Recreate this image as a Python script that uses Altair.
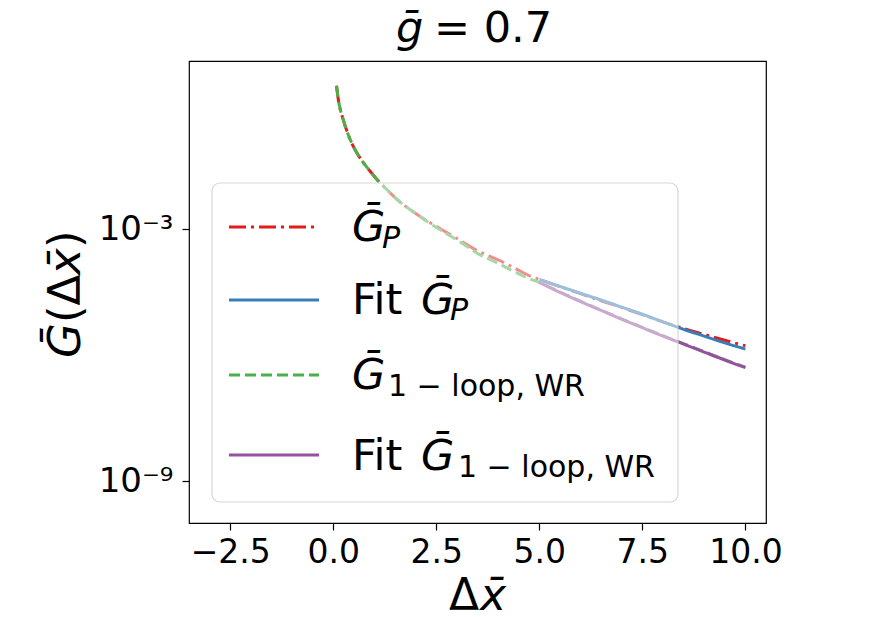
import altair as alt
import pandas as pd

FONT = "DejaVu Sans"

# ---- data (log10 of G) ----
x_gp = [0.08, 0.12, 0.16, 0.24, 0.35, 0.48, 0.6, 0.73, 0.9, 1.05, 1.3, 1.54, 2.0, 2.35,
        2.75, 3.16, 3.5, 3.97, 4.4, 4.78, 5.0, 5.5, 6.0, 6.5, 7.0, 7.5, 8.0, 8.5, 9.0, 9.5, 10.0]
log_gp = [0.41, 0.10, -0.11, -0.39, -0.72, -1.02, -1.23, -1.42, -1.63, -1.81, -2.06, -2.29, -2.63, -2.85,
          -3.08, -3.32, -3.52, -3.72, -3.93, -4.12, -4.20, -4.37, -4.54, -4.71, -4.87, -5.04, -5.21, -5.37, -5.51, -5.65, -5.78]

x_1l = [0.08, 0.12, 0.16, 0.24, 0.35, 0.48, 0.6, 0.73, 0.9, 1.05, 1.3, 1.54, 2.0, 2.35,
        2.75, 3.16, 3.5, 3.97, 4.4, 4.78, 5.0, 5.5, 6.0, 6.5, 7.0, 7.5, 8.0, 8.5, 9.0, 9.5, 10.0]
log_1l = [0.41, 0.10, -0.11, -0.39, -0.72, -1.02, -1.23, -1.42, -1.63, -1.81, -2.06, -2.29, -2.63, -2.87,
          -3.11, -3.36, -3.58, -3.80, -4.02, -4.19, -4.27, -4.50, -4.72, -4.93, -5.14, -5.34, -5.54, -5.73, -5.92, -6.11, -6.29]

x_fit = [5.0, 5.5, 6.0, 6.5, 7.0, 7.5, 8.0, 8.5, 9.0, 9.5, 10.0]
log_fit_gp = [-4.20, -4.37, -4.53, -4.69, -4.86, -5.03, -5.21, -5.39, -5.55, -5.71, -5.86]
log_fit_1l = [-4.27, -4.51, -4.73, -4.94, -5.15, -5.35, -5.55, -5.74, -5.93, -6.12, -6.30]

x_ticks = [-2.5, 0.0, 2.5, 5.0, 7.5, 10.0]
y_ticks = [1e-9, 1e-3]

RED, BLUE, GREEN, PURPLE = "#e41a1c", "#377eb8", "#4daf4a", "#984ea3"

xscale = alt.Scale(domain=[-3.5, 10.5], nice=False, zero=False)
yscale = alt.Scale(type="log", domain=[1e-10, 10], nice=False)
xaxis = alt.Axis(values=x_ticks, format=".1f", title=None, grid=False, domain=False,
                 tickColor="black", tickWidth=1.2, tickSize=7, labelPadding=6,
                 labelFont=FONT, labelFontSize=33, labelColor="black")
yaxis = alt.Axis(values=y_ticks, labelExpr="datum.value < 1e-6 ? '10⁻⁹' : '10⁻³'",
                 title=None, grid=False, domain=False,
                 tickColor="black", tickWidth=1.2, tickSize=7, labelPadding=9,
                 labelFont=FONT, labelFontSize=34, labelColor="black")


def line(xs, logs, color, dash=None):
    df = pd.DataFrame({"x": xs, "G": [10 ** v for v in logs]})
    kw = dict(color=color, strokeWidth=3, interpolate="monotone")
    if dash:
        kw["strokeDash"] = dash
    return alt.Chart(df).mark_line(**kw).encode(
        x=alt.X("x:Q", scale=xscale, axis=xaxis),
        y=alt.Y("G:Q", scale=yscale, axis=yaxis),
    )


one = pd.DataFrame({"a": [0]})


def txt(s, x, y, size, italic=False, angle=0):
    return alt.Chart(one).mark_text(
        text=s, font=FONT, fontSize=size, fontStyle="italic" if italic else "normal",
        align="left", baseline="alphabetic", angle=angle, color="black"
    ).encode(x=alt.value(x), y=alt.value(y))


def rule(y, color, dash=None):
    kw = dict(color=color, strokeWidth=3)
    if dash:
        kw["strokeDash"] = dash
    return alt.Chart(one).mark_rule(**kw).encode(
        x=alt.value(40), x2=alt.value(130), y=alt.value(y))


DASHDOT = [17, 5, 3, 5]
DASH = [11, 5]

layers = [
    line(x_gp, log_gp, RED, DASHDOT),
    line(x_fit, log_fit_gp, BLUE),
    line(x_1l, log_1l, GREEN, DASH),
    line(x_fit, log_fit_1l, PURPLE),
]

legend_box = alt.Chart(one).mark_rect(
    fill="white", fillOpacity=0.5, stroke="#cccccc", strokeOpacity=0.8, strokeWidth=1.2,
    cornerRadius=8
).encode(x=alt.value(23), x2=alt.value(489), y=alt.value(122), y2=alt.value(441))

MAIN, SUB = 43, 30
legend = [
    legend_box,
    rule(166, RED, DASHDOT),
    rule(239, BLUE),
    rule(314, GREEN, DASH),
    rule(394, PURPLE),
    # item 1
    txt("Ḡ", 163, 180, MAIN, True),
    txt("P", 193, 187, SUB, True),
    # item 2
    txt("Fit", 163, 253, MAIN),
    txt("Ḡ", 232, 253, MAIN, True),
    txt("P", 261, 259, SUB, True),
    # item 3
    txt("Ḡ", 163, 328, MAIN, True),
    txt("1 − loop, WR", 199, 335, SUB),
    # item 4
    txt("Fit", 163, 409, MAIN),
    txt("Ḡ", 232, 409, MAIN, True),
    txt("1 − loop, WR", 269, 416, SUB),
]

titles = [
    txt("ḡ", 207, -19, 43, True),
    txt("= 0.7", 245, -19, 43),
    txt("Δ", 260, 549, 44),
    txt("x̄", 291, 549, 44, True),
    txt("Ḡ", -109, 297, 45, True, 270),
    txt("(Δ", -109, 262, 45, False, 270),
    txt("x̄", -109, 214, 45, True, 270),
    txt(")", -109, 187, 45, False, 270),
]

chart = alt.layer(*layers, *legend, *titles).properties(
    width=577, height=462,
    autosize=alt.AutoSizeParams(type="none"),
    padding={"left": 181, "top": 53, "right": 90, "bottom": 92},
    background="white",
).configure_view(stroke="black", strokeWidth=1.2)

chart.save("out.html", embed_options={"renderer": "svg", "actions": False})
